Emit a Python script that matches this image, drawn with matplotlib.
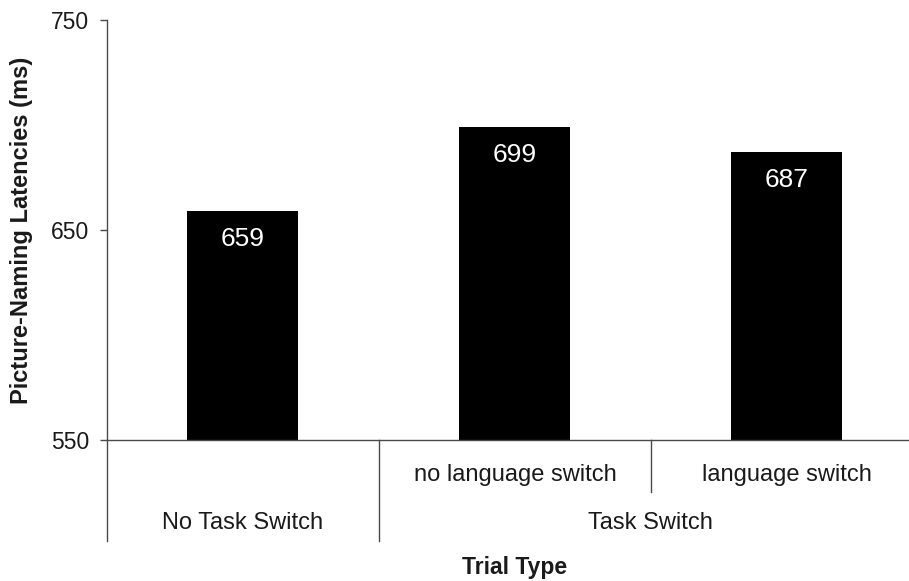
import matplotlib
matplotlib.use("Agg")
import matplotlib.pyplot as plt
import matplotlib.transforms as mtransforms

plt.rcParams['font.family'] = ['Liberation Sans', 'DejaVu Sans']

# data
conditions = ["", "no language switch", "language switch"]
groups = ["No Task Switch", "Task Switch"]
group_members = [[0], [1, 2]]
latencies = [659, 699, 687]
yticks = [550, 650, 750]

line_col = '#4a4a4a'
text_col = '#1a1a1a'

fig = plt.figure(figsize=(9.09, 5.81), dpi=100)
ax = fig.add_axes([107 / 909, 141 / 581, 802 / 909, 420 / 581])

xpos = list(range(len(latencies)))
ax.bar(xpos, latencies, width=0.408, color='black', bottom=0)
ax.set_ylim(550, 750)
ax.set_xlim(-0.5, 2.449)

for x, v in zip(xpos, latencies):
    ax.annotate(str(v), xy=(x, v), xytext=(0, -20), textcoords='offset points',
                ha='center', va='center', color='white', fontsize=19)

# axes styling
for s in ['top', 'right']:
    ax.spines[s].set_visible(False)
for s in ['left', 'bottom']:
    ax.spines[s].set_color(line_col)
    ax.spines[s].set_linewidth(1.0)
ax.set_yticks(yticks)
ax.tick_params(axis='y', direction='out', length=5, width=1, color=line_col,
               labelsize=16.5, labelcolor=text_col, pad=8)
ax.set_xticks([])

ax.set_ylabel('Picture-Naming Latencies (ms)', fontsize=17, fontweight='bold', color=text_col)
ax.yaxis.set_label_coords(-0.092, 0.5)

# hierarchical category axis below the plot
trans = mtransforms.blended_transform_factory(ax.transData, ax.transAxes)
sub_depth = -0.124
grp_depth = -0.2405

# group boundaries (full depth)
bounds = [-0.5]
for members in group_members:
    bounds.append(members[-1] + 0.5)
for b in bounds[:-1]:
    ax.plot([b, b], [0, grp_depth], color=line_col, lw=1, transform=trans, clip_on=False)
# boundaries between sub-conditions inside a group
for members in group_members:
    for m in members[1:]:
        ax.plot([m - 0.5, m - 0.5], [0, sub_depth], color=line_col, lw=1,
                transform=trans, clip_on=False)

for x, lab in zip(xpos, conditions):
    if lab:
        ax.text(x, -0.083, lab, ha='center', va='center', fontsize=17,
                color=text_col, transform=trans, clip_on=False)
for g, members in zip(groups, group_members):
    cx = (members[0] + members[-1]) / 2
    ax.text(cx, -0.198, g, ha='center', va='center', fontsize=17,
            color=text_col, transform=trans, clip_on=False)

ax.text(1.0, -0.303, 'Trial Type', ha='center', va='center', fontsize=16.5,
        fontweight='bold', color=text_col, transform=trans, clip_on=False)

fig.savefig('out.png', dpi=100)
